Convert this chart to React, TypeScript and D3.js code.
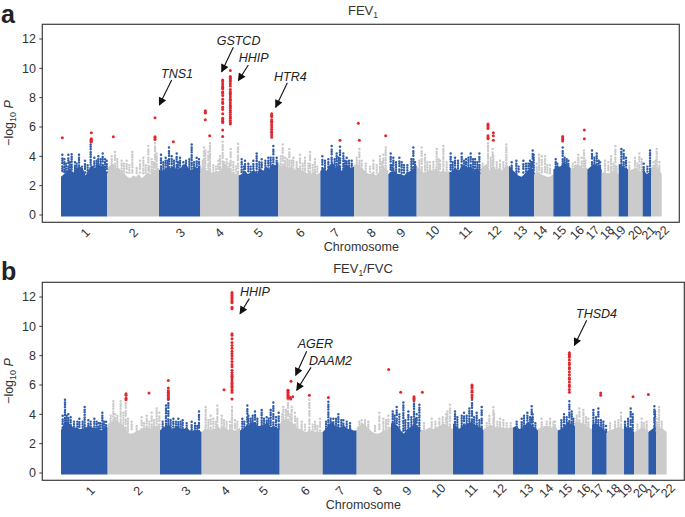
import React from "react";
import * as d3 from "d3";

const chromosomes = d3.range(1, 23).map(String);
const yTicks = [0, 2, 4, 6, 8, 10, 12];

// Genome position is a running SNP index; each panel has its own chromosome boundaries.
const fevBreaks = [183,322,477,601,716,835,961,1062,1165,1250,1348,1440,1527,1602,1660,1712,1762,1805,1856,1885,1928,1953,1985];
const ratioBreaks = [183,323,480,605,720,839,968,1070,1173,1260,1359,1451,1539,1614,1673,1725,1776,1820,1872,1902,1945,1968,2000];

const fevLabelPos = [255,400,541,657,775,900,1005,1113,1202,1297,1395,1482,1560,1620,1677,1730,1777,1820,1855,1905,1945,1985];
const ratioLabelPos = [270,413,557,675,790,915,1020,1132,1220,1315,1412,1498,1578,1638,1695,1750,1790,1838,1875,1920,1957,2003];

// Upper edge of the dense mass of points, by chromosome
const fevSkyline = [
  [2.6,2.8,3.0,3.1,2.9,3.2,3.3,3.2,2.7,3.1,3.4,3.2,3.5,3.3,3.4,2.7],
  [3.2,3.4,3.5,3.2,3.2,3.0,2.8,2.6,2.5,2.7,2.6,2.8,2.5,2.7,2.9,2.8,3.0,3.1,3.2],
  [3.1,3.0,3.1,3.2,3.2,3.3,3.1,3.1,3.4,3.5,3.2,3.0,3.3,3.2,3.4],
  [3.3,3.1,3.0,3.1,2.9,2.9,3.0,2.9,3.3,3.5,3.3,3.0,2.9,2.8,3.0],
  [2.7,2.8,3.0,2.8,2.9,3.1,2.8,3.2,3.0,3.3,3.1,3.5,3.4,3.6],
  [3.5,3.3,3.4,3.2,3.3,3.0,3.2,3.2,3.0,2.9,2.8,2.8,2.9,2.8,2.9],
  [3.0,3.2,3.0,3.4,3.6,3.2,3.4,3.0,3.3,3.4,3.2,3.3],
  [3.4,3.5,3.3,3.1,2.9,2.8,2.9,2.7,2.9,3.1,3.2,3.0],
  [2.8,2.9,3.0,2.8,2.8,2.7,2.9,3.0,3.1,3.4],
  [3.3,3.1,2.9,2.9,3.1,3.0,3.2,2.8,3.1,2.9,3.0],
  [2.9,3.0,3.2,3.0,3.3,3.4,3.2,3.3,3.0,3.2,3.0],
  [3.1,3.3,3.5,3.0,3.4,3.1,3.2,3.0,3.4,3.3],
  [3.4,3.1,2.9,2.7,2.6,2.8,3.0,3.2,3.1],
  [2.8,2.9,2.8,2.7,2.6,2.6,2.8],
  [3.1,3.3,3.3,3.6,3.4,3.2],
  [3.1,3.2,3.5,3.3,3.2,3.2],
  [3.1,3.3,3.5,3.3,3.1],
  [2.9,2.9,2.8,2.9,3.0,2.8],
  [3.5,3.4,3.2,3.1],
  [3.0,3.1,3.2,3.0,2.9],
  [3.1,2.8,3.0],
  [3.2,3.4,3.2,2.8],
];
const ratioSkyline = [
  [2.9,3.4,3.5,3.3,3.1,3.1,3.0,3.0,3.1,3.2,3.1,3.1,3.0,2.9,3.1,3.1],
  [3.3,3.5,3.5,3.6,3.4,3.3,2.9,2.7,2.7,2.8,2.9,3.0,3.1,3.1,3.0,3.2,3.2,3.3],
  [2.9,3.1,3.2,3.3,3.0,3.1,3.2,3.0,3.0,3.1,2.9,2.9,2.9,2.9,2.8],
  [2.8,3.0,3.0,2.9,3.0,3.2,3.0,3.2,2.9,3.0,2.9,2.9,3.1],
  [2.9,3.0,3.2,3.3,3.5,3.4,3.2,3.2,3.3,3.4,3.1,3.2,3.1,2.9],
  [3.3,3.7,3.6,3.5,3.4,3.1,3.0,2.9,2.8,2.9,2.9,2.8,2.8,2.8],
  [2.8,3.0,3.3,3.5,3.2,3.1,3.1,3.2,3.0,3.0,2.9,2.9],
  [3.1,3.2,3.4,3.2,3.0,2.8,2.7,2.7,2.8,2.9,2.9,3.2],
  [3.4,3.4,3.2,2.9,2.7,3.0,3.1,3.3,3.2,3.1],
  [3.0,2.9,3.0,3.1,3.0,3.1,3.2,3.4,3.3,3.1,3.0],
  [3.4,3.2,3.0,3.2,3.3,3.4,3.5,3.3,3.2,3.1,2.9],
  [3.0,3.1,3.3,3.2,3.1,3.1,3.1,3.0,3.1,3.1],
  [3.1,3.2,3.0,3.1,3.3,3.5,3.2,3.1,2.9],
  [3.0,3.1,3.2,3.2,3.1,3.1,3.0],
  [2.9,3.0,3.2,3.5,3.3,3.2],
  [3.5,3.5,3.4,3.3,3.1,3.0],
  [3.3,3.4,3.2,3.0,2.8],
  [2.8,2.9,3.0,3.1,3.1,3.0],
  [3.2,3.1,3.1,2.8],
  [2.8,2.9,3.1,3.0,2.9],
  [2.8,3.0,3.1],
  [3.2,3.1,3.0,2.8],
];

// Columns of points that rise above the mass: [position, top value]
const fevPeaks = [
  [187,4.1],[193,3.8],[205,4.1],[215,4.15],[225,3.6],[237,4.1],[255,3.7],[272,5],[283,3.9],[295,4.0],[308,4.2],[315,3.8],[320,3.7],
  [335,4.0],[345,4.3],[365,3.7],[380,3.7],[397,4.3],[420,3.7],[430,3.9],[445,4.7],[455,3.8],[465,4.9],[470,4.2],
  [483,4.1],[497,3.9],[507,4.6],[515,4.0],[530,4.2],[540,3.9],[550,3.6],[575,4.8],[590,3.9],[597,3.8],
  [612,4.6],[616,4.4],[625,4.3],[630,4.9],[655,3.7],[660,4.0],[668,5],[680,3.8],[692,4.5],[700,3.6],[714,4.85],
  [725,3.8],[735,3.7],[745,3.5],[760,3.7],[770,4.2],[785,3.8],[805,3.9],[820,4.7],[830,3.9],
  [848,4.8],[855,3.9],[868,4.5],[880,3.9],[900,4.1],[915,3.9],[930,4.3],[945,3.8],
  [967,4.0],[985,3.8],[995,4.7],[1010,4.2],[1020,4.65],[1030,4.2],[1040,3.9],[1055,3.7],
  [1078,4.5],[1085,3.7],[1120,3.7],[1140,4.0],[1150,4.1],[1157,4.6],
  [1172,4.2],[1180,3.9],[1198,3.9],[1205,3.6],[1240,4.6],[1245,3.6],
  [1265,4.6],[1275,4.1],[1290,3.6],[1310,4.5],[1320,3.7],[1330,4.7],
  [1352,4.2],[1365,3.9],[1385,4.2],[1398,3.8],[1412,4.2],[1425,3.8],[1438,4.2],
  [1464,4.9],[1478,4.5],[1480,4.0],[1500,3.7],[1519,4.8],
  [1535,3.6],[1549,3.7],[1570,3.7],[1590,3.7],[1598,4.4],[1601,4.1],
  [1610,3.5],[1617,4.1],[1625,4.0],[1635,4.0],[1650,3.4],
  [1667,3.8],[1688,4.6],[1705,3.7],
  [1725,3.6],[1735,4.1],[1745,3.9],[1752,4.4],
  [1776,4.4],[1790,4.2],[1800,3.6],
  [1815,3.7],[1825,3.6],[1833,4.0],[1846,4.7],
  [1864,4.5],[1871,4.4],[1878,3.9],
  [1888,3.6],[1905,3.9],[1918,4.2],[1925,3.8],
  [1931,3.5],[1950,4.4],
  [1960,3.6],[1970,4.5],[1978,3.6],
];
const ratioPeaks = [
  [188,3.9],[195,5.0],[205,4.0],[212,3.8],[238,3.7],[254,4.5],[265,3.6],[283,3.7],[295,3.4],[307,4.1],[318,3.5],
  [340,4.9],[345,4.0],[362,4.9],[377,5.0],[395,3.5],[425,3.8],[440,3.9],[455,4.1],[470,4.4],[478,4.1],
  [498,4.6],[505,5.0],[520,3.7],[535,3.7],[548,3.6],[575,3.5],[585,3.4],[597,4.2],
  [617,4.5],[632,3.9],[640,3.7],[652,4.6],[665,3.9],[690,3.5],[696,4.5],[705,3.6],
  [727,3.7],[742,4.6],[745,3.9],[765,4.2],[785,4.3],[800,3.8],[812,4.3],[820,4.8],[828,3.8],[836,4.1],
  [850,4.5],[864,5.0],[875,4.5],[885,4.1],[905,3.5],[928,5.0],[945,3.5],[960,3.7],
  [985,4.85],[1000,3.7],[1015,4.0],[1030,3.6],[1050,3.4],
  [1085,3.6],[1105,3.5],[1138,4.1],[1150,3.7],[1165,3.9],
  [1178,4.2],[1190,4.5],[1210,4.8],[1225,4.2],[1242,4.9],[1250,4.0],[1258,4.65],
  [1295,3.7],[1318,3.7],[1338,4.0],[1342,4.2],[1350,4.65],
  [1365,4.2],[1392,4.1],[1408,4.4],[1416,5.0],[1430,4.1],[1445,4.5],
  [1468,3.9],[1480,4.5],[1482,4.0],[1500,3.7],[1510,3.6],
  [1565,3.7],[1582,4.1],[1595,4.55],[1598,4.0],
  [1625,3.7],[1650,3.7],[1665,3.5],
  [1692,4.0],[1708,4.9],[1715,4.2],
  [1738,4.4],[1750,4.3],[1765,3.7],
  [1780,4.3],[1795,4.4],[1810,3.5],[1818,3.2],
  [1845,3.5],[1863,4.1],
  [1875,3.5],[1892,4.4],[1898,4.0],
  [1925,3.7],[1940,3.5],
  [1963,4.55],[1965,4.2],
  [1970,3.7],[1977,4.5],
];

// Loose points just above the mass: [position, value]
const fevFringe = [
  [198,3.5],[210,3.6],[230,3.5],[246,3.3],[263,3.4],[290,3.7],[302,3.8],
  [352,3.8],[372,3.5],[388,3.4],[410,3.2],[437,3.4],[448,3.3],[460,3.6],
  [490,3.6],[503,3.7],[522,3.7],[534,3.6],[558,3.7],[568,3.8],[582,3.6],
  [608,3.7],[640,3.4],[648,3.3],[672,3.6],[688,3.5],[708,3.3],
  [732,3.3],[752,3.3],[778,3.6],[796,3.7],[812,3.9],
  [842,4.0],[862,3.8],[875,3.7],[890,3.6],[908,3.5],[925,3.5],[938,3.4],[952,3.3],
  [975,3.7],[1004,3.8],[1016,3.9],[1035,3.7],[1047,3.7],
  [1070,3.9],[1097,3.5],[1110,3.3],[1130,3.4],[1146,3.6],
  [1176,3.4],[1188,3.6],[1212,3.4],[1222,3.4],[1234,3.8],
  [1258,3.7],[1282,3.6],[1300,3.6],[1316,3.8],[1340,3.6],
  [1358,3.6],[1374,3.7],[1392,3.7],[1405,3.9],[1419,3.8],[1432,3.6],
  [1448,3.5],[1472,3.9],[1490,3.6],[1510,3.6],
  [1556,3.3],[1578,3.5],[1585,3.5],[1594,3.6],
  [1642,3.4],[1672,3.5],[1694,3.9],[1700,3.8],
  [1718,3.5],[1756,3.7],[1783,3.9],[1796,3.7],
  [1840,3.5],[1850,3.3],[1912,3.5],[1942,3.3],[1966,3.7],
];
const ratioFringe = [
  [200,3.9],[222,3.5],[232,3.5],[248,3.5],[272,3.5],[290,3.5],[300,3.4],[312,3.5],
  [332,3.9],[352,3.9],[370,4.1],[384,3.7],[410,3.2],[432,3.4],[448,3.5],[462,3.6],
  [488,3.5],[512,3.6],[528,3.5],[542,3.5],[560,3.4],[592,3.2],
  [625,3.6],[648,3.5],[672,3.6],[680,3.5],[712,3.5],
  [733,3.5],[752,3.7],[758,3.9],[772,3.7],[792,3.7],[806,3.7],
  [846,4.0],[858,4.3],[870,4.0],[892,3.7],[915,3.3],[938,3.3],[952,3.2],
  [978,3.5],[992,3.7],[1008,3.7],[1024,3.6],[1040,3.5],
  [1078,3.5],[1095,3.6],[1125,3.2],[1158,3.6],
  [1184,3.9],[1198,4.0],[1216,3.6],[1234,3.8],[1246,3.7],
  [1272,3.4],[1306,3.5],[1328,3.8],
  [1372,3.8],[1385,3.9],[1400,3.9],[1422,3.8],[1438,3.6],
  [1460,3.4],[1492,3.5],[1520,3.4],[1532,3.4],
  [1550,3.5],[1572,3.9],[1590,3.8],[1606,3.4],
  [1640,3.5],[1660,3.5],[1684,3.6],[1700,3.8],[1720,3.7],
  [1730,3.9],[1758,3.8],[1788,3.8],[1803,3.6],
  [1830,3.4],[1855,3.6],[1884,3.7],[1912,3.3],[1932,3.4],[1985,3.5],
];

// Highlighted SNPs: [position, values...]
const fevHits = [
  [187,5.27],[274,5.6,5.2,5.1,5.0],[273,5.15],[340,5.33],[465,6.63,5.33,5.25,5.15],[520,5.0],
  [616,7.1,7.0,6.95,6.5],[629,5.4],
  [668,9.2,9.1,8.95,8.8,8.7,8.6,8.4,8.3,8.15,7.9,7.7,7.6,7.35,7.2,6.9,6.6,6.5,6.4,6.3,5.8,5.35],
  [691,9.85,9.45,9.35,9.3,9.2,9.1,8.95,8.8,8.55,8.4,8.3,8.2,8.05,7.9,7.8,7.65,7.5,7.4,7.3,7.15,7,6.85,6.7,6.6,6.45,6.3,6.2],
  [815,6.9,6.8,6.7,6.5,6.4,6.3,6.15,6.0,5.85,5.7,5.6,5.45,5.3],
  [1020,5.1],[1075,6.25],[1078,5.1],[1157,5.4],
  [1464,6.2,6.1,6.0,5.9,5.4,5.3,5.2],[1480,5.6,5.4,5.1],[1688,5.35,5.25,5.15,5.05],[1753,5.8,5.2],
];
const ratioHits = [
  [378,5.4,5.3,5.1,5.0],[447,5.45],[505,6.3,5.8,5.6,5.5,5.4,5.3,5.2,5.1,5.05],[672,5.67],
  [696,12.3,12.2,12.1,12,11.9,11.8,11.7,11.6,11.3,11.2,9.5,9.4,9.15,8.9,8.7,8.5,8.3,8.15,8.0,7.8,7.6,7.4,7.25,7.0,6.85,6.7,6.6,6.5,6.35,6.2,6.1,6.0,5.9,5.8,5.65,5.5,5.05],
  [873,6.25],[864,5.65,5.6,5.5,5.4,5.3,5.2,5.1],[870,5.15],[872,5.05],[878,5.2],[928,5.3],[985,5.15],
  [1166,7.05],[1202,5.5],[1242,5.2,5.1,5.0],[1267,5.5],[1416,6.0,5.9,5.8,5.6,5.5,5.3,5.15],
  [1708,8.2,8.1,8.0,7.9,7.7,7.5,7.4,7.2,7.1,6.9,6.7,6.5,6.4,6.2,6.0,5.9,5.7,5.5],
  [1802,5.45,5.3],[1899,5.2],[1945,5.35],
];

// Gene callouts: gene, text position, text value, arrow tail and head (position, value)
const fevGenes: [string, number, number, number, number, number, number][] = [
  ["GSTCD",650,11.57,700,11.43,665,9.77],
  ["HHIP",716,10.4,745,10.23,715,9.16],
  ["TNS1",483,9.32,515,9.2,478,7.5],
  ["HTR4",822,9.14,862,9.02,827,7.34],
];
const ratioGenes: [string, number, number, number, number, number, number][] = [
  ["HHIP",720,12.09,748,11.89,720,10.86],
  ["AGER",893,8.52,920,8.3,887,6.66],
  ["DAAM2",927,7.34,933,7.2,890,5.64],
  ["THSD4",1728,10.57,1760,10.41,1723,8.7],
];

const BLUE = "#2f5ca9";
const GRAY = "#cbcbcb";
const RED = "#e2282e";
const INK = "#333";
const FONT = "'Liberation Sans', Arial, sans-serif";

type PanelProps = {
  letter: string; top: number; right: number; breaks: number[]; labelPos: number[];
  skyline: number[][]; peaks: number[][]; fringe: number[][]; hits: number[][];
  genes: [string, number, number, number, number, number, number][];
  title: React.ReactNode; markerId: string; xEnd: number; letterY: number;
};

function Panel({ letter, top, right, breaks, labelPos, skyline, peaks, fringe, hits, genes, title, markerId, xEnd, letterY }: PanelProps) {
  const x = d3.scaleLinear().domain([breaks[0], breaks[22]]).range([61, xEnd]);
  const y = d3.scaleLinear().domain([0, 12]).range([top + 191, top + 15]);
  const boxLeft = 42.3, boxTop = top + 0.3, boxBottom = top + 198.3;
  const colour = (p: number) => (d3.bisectRight(breaks, p) - 1) % 2 === 0 ? BLUE : GRAY;
  const area = d3.area<[number, number]>().x((d) => x(d[0])).y0(y(-0.1)).y1((d) => y(d[1]));
  const xCentre = (breaks[0] + breaks[22]) / 2;
  return (
    <g fontFamily={FONT} fill={INK}>
      <text x={1} y={letterY} fontSize={25} fontWeight="bold" fill="#222">{letter}</text>
      <text x={363} y={top - 9} fontSize={13} textAnchor="middle">{title}</text>
      <g filter="url(#soft)">
        {skyline.map((vals, c) => {
          const a = breaks[c], b = breaks[c + 1];
          const pts = vals.map((v, i) => [a + (i / (vals.length - 1)) * (b - a), v] as [number, number]);
          return <path key={c} d={area(pts) ?? ""} fill={c % 2 === 0 ? BLUE : GRAY} />;
        })}
        {peaks.map(([p, v], i) => (
          <line key={i} x1={x(p)} x2={x(p)} y1={y(v)} y2={y(2.8)} stroke={colour(p)} strokeWidth={2.5}
            strokeLinecap="round" strokeDasharray={i % 2 ? "0 2.9 0 2.2 0 2.6" : "0 3.6 0 2.1 0 2.4"} />
        ))}
        {fringe.map(([p, v], i) => (
          <line key={i} x1={x(p)} x2={x(p)} y1={y(v)} y2={y(2.8)} stroke={colour(p)} strokeWidth={2.4}
            strokeLinecap="round" strokeDasharray="0 2.5" />
        ))}
        {hits.flatMap(([p, ...vals], i) =>
          vals.map((v, j) => <circle key={`${i}-${j}`} cx={x(p)} cy={y(v)} r={1.5} fill={RED} />)
        )}
      </g>
      <rect x={boxLeft} y={boxTop} width={right - boxLeft} height={boxBottom - boxTop} fill="none" stroke="#3c3c3c" strokeWidth={1.2} />
      {yTicks.map((t) => (
        <g key={t}>
          <line x1={39.3} x2={boxLeft} y1={y(t)} y2={y(t)} stroke="#3c3c3c" strokeWidth={1} />
          <text x={36} y={y(t) + 4.3} fontSize={12.5} textAnchor="end">{t}</text>
        </g>
      ))}
      {chromosomes.map((c, i) => (
        <text key={c} fontSize={12.5} textAnchor="middle"
          transform={`translate(${x(labelPos[i])},${top + 208.5}) rotate(-45) translate(0,4.5)`}>{c}</text>
      ))}
      <text x={x(xCentre) + (right > 680 ? -0.5 : 0)} y={top + 227} fontSize={12.5} textAnchor="middle">Chromosome</text>
      <text transform={`translate(13,${top + 99}) rotate(-90)`} fontSize={12.5} textAnchor="middle">
        −log<tspan fontSize={9} dy={3}>10</tspan><tspan dy={-3}> </tspan><tspan fontStyle="italic">P</tspan>
      </text>
      {genes.map(([g, tx, tv, x1, v1, x2, v2]) => (
        <g key={g}>
          <text x={x(tx)} y={y(tv)} fontSize={12.5} fontStyle="italic" fill="#222">{g}</text>
          <line x1={x(x1)} y1={y(v1)} x2={x(x2)} y2={y(v2)} stroke="#111" strokeWidth={1.1} markerEnd={`url(#${markerId})`} />
        </g>
      ))}
    </g>
  );
}

export default function App() {
  return (
    <svg width={685} height={517} viewBox="0 0 685 517" style={{ position: "absolute", left: 0, top: 0, background: "#fff" }}>
      <defs>
        <filter id="soft" x="0" y="0" width="1" height="1"><feGaussianBlur stdDeviation="0.4" /></filter>
        {["headA", "headB"].map((id) => (
          <marker key={id} id={id} viewBox="0 0 10 10" refX={9} refY={5} markerWidth={9} markerHeight={8} markerUnits="userSpaceOnUse" orient="auto">
            <path d="M0,0 L10,5 L0,10 Z" fill="#111" />
          </marker>
        ))}
      </defs>
      <Panel letter="a" top={24} right={679.3} breaks={fevBreaks} labelPos={fevLabelPos} skyline={fevSkyline}
        peaks={fevPeaks} fringe={fevFringe} hits={fevHits} genes={fevGenes} markerId="headA" xEnd={661.7} letterY={23}
        title={<>FEV<tspan fontSize={8.5} dy={3}>1</tspan></>} />
      <Panel letter="b" top={282} right={684.3} breaks={ratioBreaks} labelPos={ratioLabelPos} skyline={ratioSkyline}
        peaks={ratioPeaks} fringe={ratioFringe} hits={ratioHits} genes={ratioGenes} markerId="headB" xEnd={666.7} letterY={280}
        title={<>FEV<tspan fontSize={8.5} dy={3}>1</tspan><tspan dy={-3}>/FVC</tspan></>} />
    </svg>
  );
}
